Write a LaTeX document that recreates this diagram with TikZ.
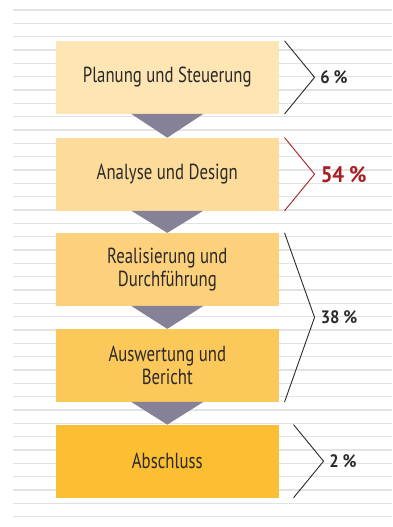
\documentclass[tikz,border=0pt]{standalone}
\usepackage{fontspec}
\setmainfont[FakeStretch=0.77]{PT Sans}
\newfontfamily\numfont[FakeStretch=0.92]{PT Sans}
\usetikzlibrary{calc}
\definecolor{ruleg}{HTML}{E2E2E2}
\definecolor{ink}{HTML}{2B2A29}
\definecolor{tri}{HTML}{858298}
\definecolor{hot}{HTML}{A81E22}
\definecolor{fa}{HTML}{FDE5B4}
\definecolor{fb}{HTML}{FDDB9A}
\definecolor{fc}{HTML}{FDD17C}
\definecolor{fd}{HTML}{FDC85A}
\definecolor{fe}{HTML}{FCBE32}
\newcommand{\pct}{\hspace{0.22em}\%}
\begin{document}
\begin{tikzpicture}[x=1pt,y=-1pt,
  ruleline/.style={draw=ruleg,line width=1.2pt},
  phase/.style={minimum width=222.7pt,minimum height=72.7pt,inner sep=0pt,
    align=center,font=\fontsize{21.8}{23.5}\selectfont,text=ink},
  tip/.style={fill=tri},
  brace/.style={draw=ink,line width=0.9pt},
  share/.style={anchor=west,font=\numfont\bfseries\fontsize{18}{20}\selectfont,text=ink,inner sep=0pt}]
\useasboundingbox (0,0) rectangle (392,527);
% ruled background
\foreach \i in {0,...,38}
  \draw[ruleline] (13,10+\i*13.3333) -- (392,10+\i*13.3333);
% phases
\node[phase,fill=fa] (p1) at (167.3,77.4) {\raisebox{-1.5pt}{Planung und Steuerung}};
\node[phase,fill=fb] (p2) at (167.3,174.2) {\raisebox{-1.5pt}{Analyse und Design}};
\node[phase,fill=fc] (p3) at (167.3,269.4) {Realisierung und\\Durchführung};
\node[phase,fill=fd] (p4) at (167.3,365.4) {Auswertung und\\Bericht};
\node[phase,fill=fe] (p5) at (167.3,461.2) {\raisebox{-1.5pt}{Abschluss}};
% arrows between phases
\foreach \a/\b in {p1/p2,p2/p3,p3/p4,p4/p5}
  \fill[tip] ($(\a.south)+(-36,0)$) -- ($(\a.south)+(36,0)$) -- (\b.north) -- cycle;
% shares
\draw[brace] ($(p1.north east)+(5.7,0)$) -- ($(p1.east)+(35.7,0)$) coordinate (t1) -- ($(p1.south east)+(5.7,0)$);
\node[share] (s1) at ($(t1)+(5.5,0)$) {6\pct};
\draw[brace,draw=hot] ($(p2.north east)+(5.7,0)$) -- ($(p2.east)+(35.7,0)$) coordinate (t2) -- ($(p2.south east)+(5.7,0)$);
\node[share,text=hot,font=\numfont\bfseries\fontsize{22.5}{26}\selectfont] (s2) at ($(t2)+(6,0)$) {54\pct};
\draw[brace] ($(p3.north east)+(5.7,0)$) -- ($($(p3.north east)!0.5!(p4.south east)$)+(35.7,0)$) coordinate (t3) -- ($(p4.south east)+(5.7,0)$);
\node[share] (s3) at ($(t3)+(6,0)$) {38\pct};
\draw[brace] ($(p5.north east)+(14.7,0)$) -- ($(p5.east)+(44.7,0)$) coordinate (t5) -- ($(p5.south east)+(14.7,0)$);
\node[share] (s5) at ($(t5)+(5.5,0)$) {2\pct};
\end{tikzpicture}
\end{document}
